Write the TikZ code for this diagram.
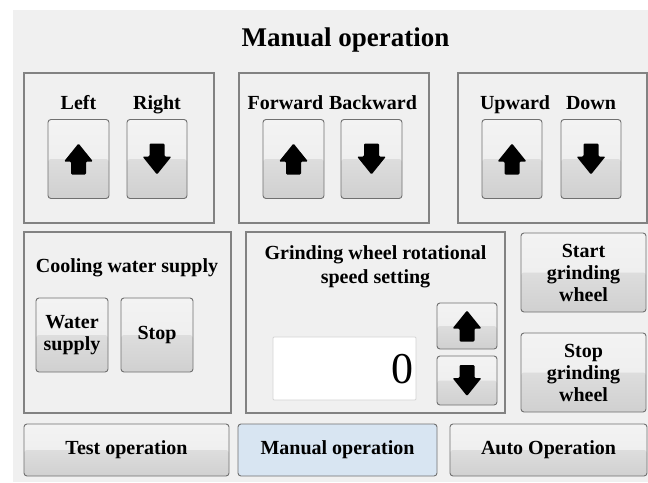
\documentclass[tikz,border=0pt]{standalone}
\usepackage{fontspec}
\setmainfont{Liberation Serif}[BoldFont={Liberation Serif Bold}]
\definecolor{bgc}{HTML}{F0F0F0}
\definecolor{framec}{HTML}{828282}
\definecolor{bbord}{HTML}{707070}
\definecolor{btopa}{HTML}{F3F3F3}
\definecolor{btopb}{HTML}{EBEBEB}
\definecolor{bbota}{HTML}{DDDDDD}
\definecolor{bbotb}{HTML}{D0D0D0}
\definecolor{selc}{HTML}{D8E5F2}
\definecolor{boxb}{HTML}{D4D4D4}
\tikzset{
  uparr/.pic={\fill[black, rounded corners=1.2pt] (0,-15.5) -- (14.5,2.5) -- (7.5,2.5) -- (7.5,15.5) -- (-7.5,15.5) -- (-7.5,2.5) -- (-14.5,2.5) -- cycle;},
  downarr/.pic={\fill[black, rounded corners=1.2pt] (0,15.5) -- (14.5,-2.5) -- (7.5,-2.5) -- (7.5,-15.5) -- (-7.5,-15.5) -- (-7.5,-2.5) -- (-14.5,-2.5) -- cycle;}
}
\begin{document}
\begin{tikzpicture}[x=1pt,y=-1pt,
  lblfont/.style={font=\bfseries\fontsize{20}{22}\selectfont},
  panel/.style={draw=framec, line width=1.2pt, inner sep=0pt},
  btn/.style={draw=bbord, line width=0.9pt, rounded corners=3pt, inner sep=0pt, align=center, lblfont,
    path picture={
      \shade[top color=btopa, bottom color=btopb] (path picture bounding box.north west) rectangle (path picture bounding box.east);
      \shade[top color=bbota, bottom color=bbotb] (path picture bounding box.west) rectangle (path picture bounding box.south east);}},
  selbtn/.style={draw=bbord, line width=0.9pt, rounded corners=3pt, inner sep=0pt, align=center, lblfont, fill=selc},
  lbl/.style={lblfont, inner sep=0pt, anchor=base},
]
\useasboundingbox (0,0) rectangle (648,482);
\fill[white] (0,0) rectangle (648,482);
\fill[bgc] (12.5,10) rectangle (648,482);

% title
\node[inner sep=0pt, anchor=base, font=\bfseries\fontsize{27}{30}\selectfont] (title) at (345.5,46) {Manual operation};

% top panels
\node[panel, minimum width=190pt, minimum height=150pt] (p1) at (119,148) {};
\node[panel, minimum width=190pt, minimum height=150pt] (p2) at (334,148) {};
\node[panel, minimum width=189pt, minimum height=150pt] (p3) at (552.5,148) {};

\node[lbl] (lleft) at (78.5,109) {Left};
\node[lbl] (lright) at (157,109) {Right};
\node[lbl] (lfwd) at (285.5,109) {Forward};
\node[lbl] (lbwd) at (373,109) {Backward};
\node[lbl] (lup) at (515,109) {Upward};
\node[lbl] (ldown) at (591,109) {Down};

\node[btn, minimum width=61pt, minimum height=79pt] (bleft) at (78.5,159) {};
\node[btn, minimum width=60pt, minimum height=79pt] (bright) at (157,159) {};
\node[btn, minimum width=61pt, minimum height=79pt] (bfwd) at (293.5,159) {};
\node[btn, minimum width=61pt, minimum height=79pt] (bbwd) at (371.5,159) {};
\node[btn, minimum width=60pt, minimum height=79pt] (bup) at (512,159) {};
\node[btn, minimum width=60pt, minimum height=79pt] (bdown) at (591,159) {};
\pic at (bleft) {uparr};
\pic at (bright) {downarr};
\pic at (bfwd) {uparr};
\pic at (bbwd) {downarr};
\pic at (bup) {uparr};
\pic at (bdown) {downarr};

% cooling panel
\node[panel, minimum width=207pt, minimum height=181pt] (p4) at (127.5,322.5) {};
\node[lbl] (lcool) at (127,272.7) {Cooling water supply};
\node[btn, minimum width=72pt, minimum height=74pt] (bwater) at (72,335) {Water\\supply};
\node[btn, minimum width=72pt, minimum height=74pt] (bwstop) at (157,335) {Stop};

% grinding speed panel
\node[panel, minimum width=259pt, minimum height=181pt] (p5) at (375.5,322.5) {};
\node[lblfont, inner sep=0pt, align=center, font=\bfseries\fontsize{20}{24}\selectfont] (lgrind) at (375.5,266.3) {Grinding wheel rotational\\speed setting};
\node[draw=boxb, fill=white, line width=0.8pt, rounded corners=1pt, minimum width=143pt, minimum height=63pt, inner sep=0pt] (numbox) at (344.5,368.5) {};
\node[inner sep=0pt, anchor=base east, font=\fontsize{44}{48}\selectfont] (numval) at (413.5,383) {0};
\node[btn, minimum width=60pt, minimum height=46pt] (bspup) at (467,326) {};
\node[btn, minimum width=60pt, minimum height=49pt] (bspdown) at (467,380.5) {};
\pic at (bspup) {uparr};
\pic at (bspdown) {downarr};

% grinding wheel start/stop
\node[btn, minimum width=125pt, minimum height=79pt] (bstart) at (583.5,272.5) {Start\\grinding\\wheel};
\node[btn, minimum width=125pt, minimum height=79pt] (bstop) at (583.5,372.5) {Stop\\grinding\\wheel};

% bottom mode buttons
\node[btn, minimum width=205pt, minimum height=52pt] (btest) at (126.5,450) {Test operation};
\node[selbtn, minimum width=199pt, minimum height=52pt] (bmanual) at (337.5,450) {Manual operation};
\node[btn, minimum width=197pt, minimum height=52pt] (bauto) at (548.5,450) {Auto Operation};
\end{tikzpicture}
\end{document}
